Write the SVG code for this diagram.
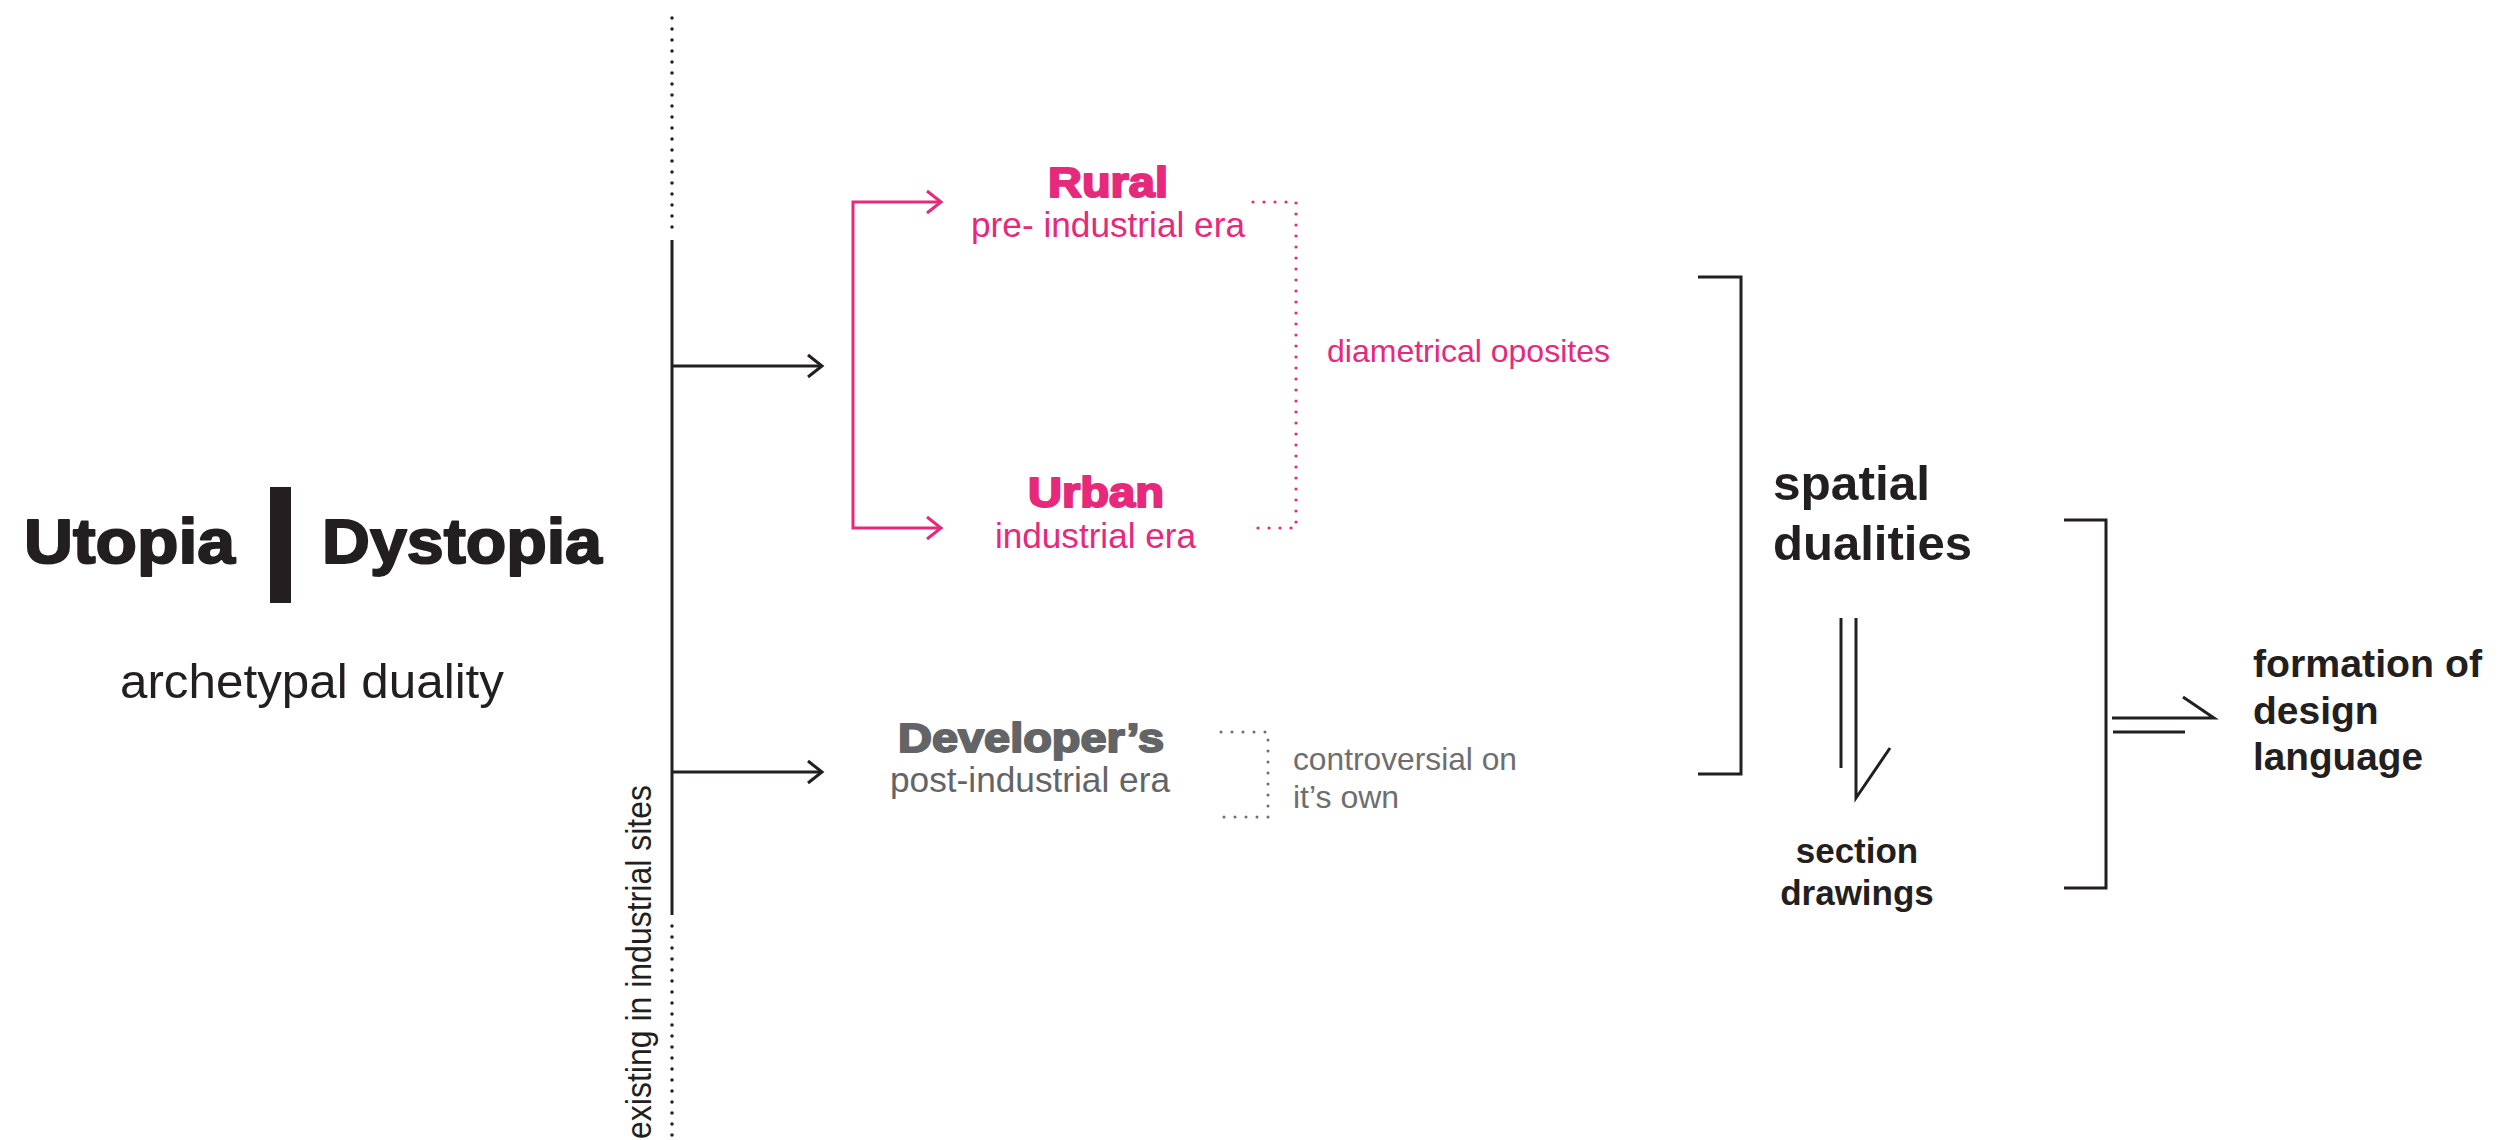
<svg xmlns="http://www.w3.org/2000/svg" width="2510" height="1140" viewBox="0 0 2510 1140">
<defs>
<style>
.t{font-family:"Liberation Sans",Arial,Helvetica,sans-serif}
.b{font-weight:bold}
.heavy{font-weight:bold;stroke-width:2;stroke-linejoin:round}
.dark{fill:#231f20}
.darks{fill:#231f20;stroke:#231f20}
.pink{fill:#e6297b}
.pinks{fill:#e6297b;stroke:#e6297b}
.gray{fill:#636466}
.grays{fill:#636466;stroke:#636466}
.lgray{fill:#6d6e70}
.ln{fill:none;stroke:#231f20;stroke-width:3}
.pl{fill:none;stroke:#e6297b;stroke-width:3}
.dot{fill:none;stroke-linecap:round;stroke-dasharray:0 11}
</style>
<marker id="ahk" markerUnits="userSpaceOnUse" markerWidth="40" markerHeight="40" refX="0" refY="0" orient="auto" overflow="visible"><path d="M-14,-11 L0,0 L-14,11" fill="none" stroke="#231f20" stroke-width="3"/></marker>
<marker id="ahp" markerUnits="userSpaceOnUse" markerWidth="40" markerHeight="40" refX="0" refY="0" orient="auto" overflow="visible"><path d="M-14,-11 L0,0 L-14,11" fill="none" stroke="#e6297b" stroke-width="3"/></marker>
</defs>
<rect width="2510" height="1140" fill="#ffffff"/>

<g id="title">
<text class="t heavy darks" x="24" y="563" font-size="63" textLength="211" lengthAdjust="spacingAndGlyphs">Utopia</text>
<rect x="270" y="487" width="21" height="116" fill="#231f20"/>
<text class="t heavy darks" x="322" y="563" font-size="63" textLength="280" lengthAdjust="spacingAndGlyphs">Dystopia</text>
<text class="t dark" x="120" y="698" font-size="49" textLength="384" lengthAdjust="spacingAndGlyphs">archetypal duality</text>
</g>

<g id="timeline">
<path class="dot" d="M672,18 V237" stroke="#231f20" stroke-width="3.5"/>
<path class="ln" d="M672,240 V915"/>
<path class="dot" d="M672,926 V1140" stroke="#231f20" stroke-width="3.5"/>
<text class="t dark" transform="translate(651,1139) rotate(-90)" font-size="35" textLength="354" lengthAdjust="spacingAndGlyphs">existing in industrial sites</text>
</g>

<g id="rural">
<text class="t heavy pinks" x="1048" y="197" font-size="42" textLength="120" lengthAdjust="spacingAndGlyphs">Rural</text>
<text class="t pink" x="971" y="237" font-size="35" textLength="274" lengthAdjust="spacingAndGlyphs">pre- industrial era</text>
</g>

<g id="urban">
<text class="t heavy pinks" x="1028" y="507" font-size="42" textLength="136" lengthAdjust="spacingAndGlyphs">Urban</text>
<text class="t pink" x="995" y="548" font-size="35" textLength="201" lengthAdjust="spacingAndGlyphs">industrial era</text>
</g>

<g id="opposites">
<path class="dot" d="M1253,202 H1296 V528 H1253" stroke="#e6297b" stroke-width="3.2"/>
<text class="t pink" x="1327" y="362" font-size="32" textLength="283" lengthAdjust="spacingAndGlyphs">diametrical oposites</text>
</g>

<g id="developers">
<text class="t heavy grays" x="898" y="752" font-size="41" textLength="266" lengthAdjust="spacingAndGlyphs">Developer’s</text>
<text class="t gray" x="890" y="792" font-size="35" textLength="280" lengthAdjust="spacingAndGlyphs">post-industrial era</text>
</g>

<g id="controversial">
<path class="dot" d="M1221,732 H1268 V817 H1221" stroke="#6d6e70" stroke-width="3"/>
<text class="t lgray" x="1293" y="770" font-size="32" textLength="224" lengthAdjust="spacingAndGlyphs">controversial on</text>
<text class="t lgray" x="1293" y="808" font-size="32">it’s own</text>
</g>

<g id="spatial-dualities">
<text class="t b dark" x="1773" y="500" font-size="49" textLength="157" lengthAdjust="spacingAndGlyphs">spatial</text>
<text class="t b dark" x="1773" y="560" font-size="49" textLength="199" lengthAdjust="spacingAndGlyphs">dualities</text>
</g>

<g id="section-drawings">
<text class="t b dark" x="1857" y="863" font-size="35" text-anchor="middle">section</text>
<text class="t b dark" x="1857" y="905" font-size="35" text-anchor="middle">drawings</text>
</g>

<g id="design-language">
<text class="t b dark" x="2253" y="677" font-size="39" textLength="229" lengthAdjust="spacingAndGlyphs">formation of</text>
<text class="t b dark" x="2253" y="724" font-size="39">design</text>
<text class="t b dark" x="2253" y="770" font-size="39" textLength="170" lengthAdjust="spacingAndGlyphs">language</text>
</g>

<g id="connectors">
<path class="ln" d="M672,366 H822" marker-end="url(#ahk)"/>
<path class="ln" d="M672,772 H822" marker-end="url(#ahk)"/>
<path class="pl" d="M853,365 V202 H941" marker-end="url(#ahp)"/>
<path class="pl" d="M853,365 V528 H941" marker-end="url(#ahp)"/>
<path class="ln" d="M1698,277 H1741 V774 H1698"/>
<path class="ln" d="M2064,520 H2106 V888 H2064"/>
<path class="ln" d="M1841,618 V768"/>
<path class="ln" d="M1856,618 V798 L1890,748"/>
<path class="ln" d="M2112,718 H2214 L2183,697"/>
<path class="ln" d="M2113,732 H2185"/>
</g>
</svg>
